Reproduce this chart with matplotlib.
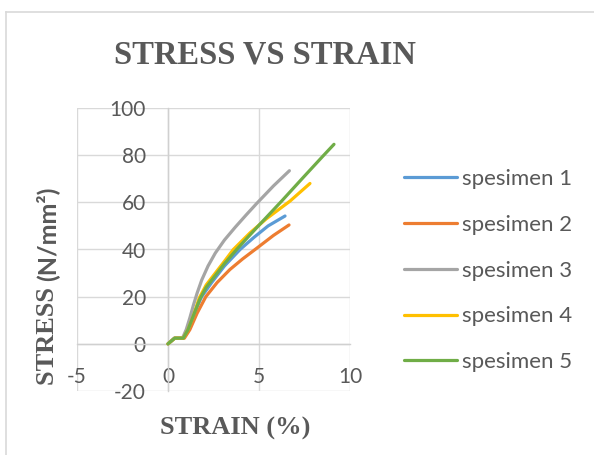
import matplotlib
matplotlib.use("Agg")
import matplotlib.pyplot as plt
from matplotlib.lines import Line2D

plt.rcParams["axes.unicode_minus"] = False

# strain (%) / stress (N/mm2)
s1_x = [0, 0.37, 0.84, 1.15, 1.5, 1.85, 2.4, 3.1, 3.96, 4.7, 5.5, 6.43]
s1_y = [0, 2.4, 2.4, 7, 14, 20, 26, 33, 40, 45, 50, 54.2]
s2_x = [0, 0.37, 0.9, 1.2, 1.6, 2.08, 2.7, 3.4, 4.1, 4.87, 5.8, 6.65]
s2_y = [0, 2.4, 2.4, 6, 13, 20, 26, 31.5, 36, 40.5, 46, 50.4]
s3_x = [0, 0.35, 0.8, 1.0, 1.2, 1.4, 1.6, 1.85, 2.2, 2.6, 3.1, 3.7, 4.3, 4.87, 5.8, 6.67]
s3_y = [0, 2.5, 2.5, 6, 11, 16.5, 21.5, 27, 33, 38.5, 44, 49.5, 54.7, 59.5, 67, 73.4]
s4_x = [0, 0.37, 0.84, 1.1, 1.4, 1.72, 2.1, 2.6, 3.1, 3.59, 4.5, 5.4, 6.7, 7.8]
s4_y = [0, 2.4, 2.4, 6, 12, 19.5, 25, 30, 35, 40, 47, 53, 60.5, 68]
s5_x = [0, 0.37, 0.84, 1.1, 1.4, 1.75, 2.1, 2.5, 3.1, 3.77, 4.4, 5.0, 6.24, 7.4, 8.5, 9.12]
s5_y = [0, 2.4, 2.4, 6, 12, 19, 24, 28, 34, 40, 45.3, 50.3, 60.5, 70.3, 79.5, 84.6]

labels = ["spesimen 1", "spesimen 2", "spesimen 3", "spesimen 4", "spesimen 5"]
colors = ["#5B9BD5", "#ED7D31", "#A5A5A5", "#FFC000", "#70AD47"]
series = [(s1_x, s1_y), (s2_x, s2_y), (s3_x, s3_y), (s4_x, s4_y), (s5_x, s5_y)]

x_ticks = [-5, 0, 5, 10]
y_ticks = [-20, 0, 20, 40, 60, 80, 100]

W, H = 594, 455
fig = plt.figure(figsize=(W / 100, H / 100), dpi=100)
ax = fig.add_axes([77 / W, 1 - 391 / H, 273 / W, 283 / H])

for (x, y), lab, c in zip(series, labels, colors):
    ax.plot(x, y, color=c, lw=2.3, label=lab, solid_capstyle="round",
            solid_joinstyle="round", zorder=3)

ax.set_xlim(-5, 10)
ax.set_ylim(-20, 100)
ax.set_xticks(x_ticks)
ax.set_yticks(y_ticks)
ax.grid(True, color="#d9d9d9", lw=1)
ax.set_axisbelow(True)
for sp in ["top", "right"]:
    ax.spines[sp].set_visible(False)
ax.spines["left"].set_position(("data", 0))
ax.spines["bottom"].set_position(("data", 0))
for sp in ["left", "bottom"]:
    ax.spines[sp].set_color("#d0d0d0")
    ax.spines[sp].set_linewidth(1)
ax.tick_params(length=0, labelsize=15, labelcolor="#595959")
ax.tick_params(axis="y", pad=16)
ax.tick_params(axis="x", pad=16.5)
for t in ax.get_xticklabels() + ax.get_yticklabels():
    t.set_fontfamily("Lato")

serif = "Liberation Serif"
fig.text(265 / W, 1 - 55 / H, "STRESS VS STRAIN", ha="center", va="center",
         fontsize=23.5, fontweight="bold", family=serif, color="#595959")
fig.text(235 / W, 1 - 428 / H, "STRAIN (%)", ha="center", va="center",
         fontsize=19, fontweight="bold", family=serif, color="#595959")
fig.text(47 / W, 1 - 385 / H, "STRESS ", ha="center", va="bottom", rotation=90,
         fontsize=19, fontweight="bold", family=serif, color="#595959")
fig.text(47 / W, 1 - 281 / H, "(N/mm²)", ha="center", va="bottom", rotation=90,
         fontsize=18, fontweight="bold", family="Lato", color="#595959")

fig.legend(loc="upper left", bbox_to_anchor=(393 / W, 1 - 158 / H), frameon=False,
           prop={"family": "Lato", "size": 16}, labelcolor="#595959",
           handlelength=2.4, handletextpad=0.22, labelspacing=1.16, borderpad=0)

# chart border (top and left edges visible)
fig.add_artist(Line2D([6 / W, 1], [1 - 12 / H, 1 - 12 / H], color="#d9d9d9", lw=1.2))
fig.add_artist(Line2D([6 / W, 6 / W], [0, 1 - 12 / H], color="#d9d9d9", lw=1.2))

fig.savefig("out.png", dpi=100)
